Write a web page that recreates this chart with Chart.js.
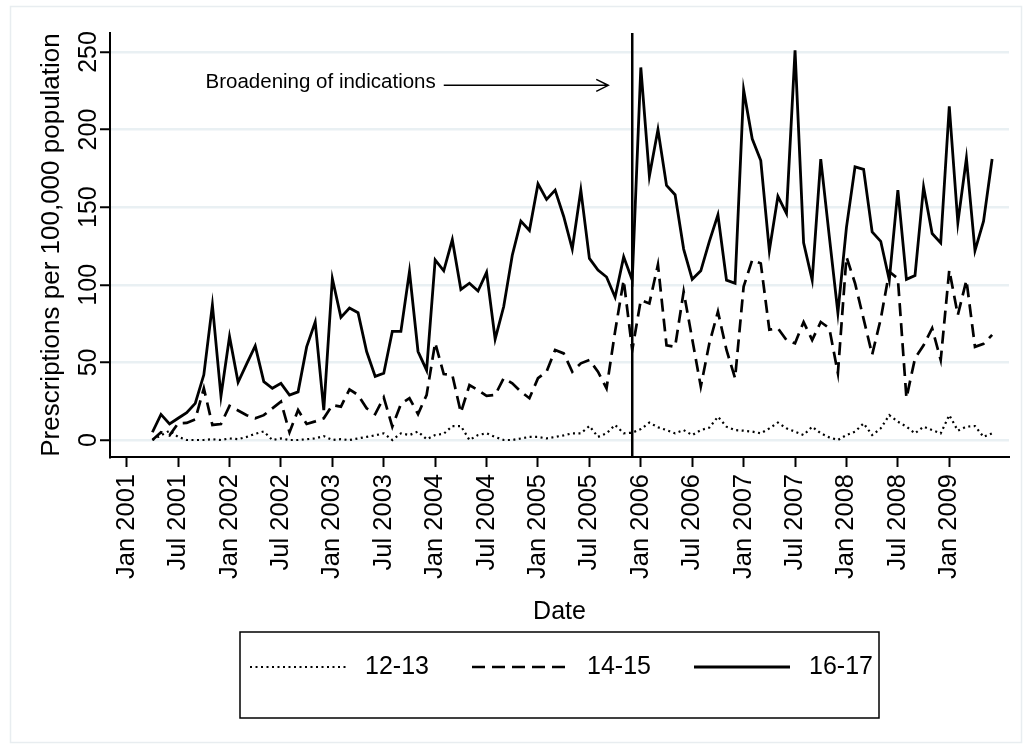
<!DOCTYPE html>
<html>
<head>
<meta charset="utf-8">
<title>Prescriptions per 100,000 population</title>
<script src="https://cdn.jsdelivr.net/npm/chart.js@4.4.1/dist/chart.umd.min.js"></script>
<style>
  html, body { margin: 0; padding: 0; background: #fff; }
  #chart { display: block; }
</style>
</head>
<body>
<canvas id="chart" width="1030" height="749"></canvas>
<script>
// x values are months counted from Jan 2001 (0 = Jan 2001), first point is Apr 2001
const firstMonth = 3;
const seriesNames = ["12-13", "14-15", "16-17"];

const age1213 = [
  0, 3, 6, 2, 0, 0, 0, 0.5, 0,
  1, 0.5, 2, 4, 5.5, 0, 1, 0, 0, 0.5, 1, 2.5,
  0, 0.5, 0, 1, 2, 3, 4.3, 0, 4.3, 3.2, 5.4, 0.5,
  3.2, 4, 9, 9, 0, 3.2, 4.3, 2, 0, 0, 1, 2,
  2, 1, 2, 3, 4.3, 4.3, 9, 2, 4.3, 9.7, 4.3, 4.7,
  7, 11.2, 8.2, 6.4, 4.3, 6.4, 3.2, 6.4, 8, 15, 8.6, 6.4,
  6, 5.4, 4.3, 7.5, 11.2, 7.5, 5.4, 3.2, 8.6, 4.3, 1.7, 0,
  3.2, 5.4, 10.7, 3.2, 7.5, 16, 11.8, 8.6, 4.3, 8.6, 6.4, 4.3,
  16, 6, 8.6, 9, 2, 4.3
];

const age1415 = [
  0, 5, 3, 10.7, 11, 13.3, 33.3, 9.7, 10.3,
  22, 19, 16, 14, 16, 20.4, 24.7, 5, 19.3, 10.3, 12, 14,
  22.5, 21.5, 32.6, 29, 20.4, 16.7, 27.5, 8.6, 23.2, 26.9, 16.7, 29,
  62.7, 42.5, 41.9, 17.6, 35.4, 32.2, 28.4, 29, 39.8, 36.5, 31.1, 26.9,
  39.8, 44, 58, 55.8, 44, 49.4, 51.5, 44, 33.3, 70, 103, 58,
  90.2, 88, 113, 61, 60, 95.6, 65, 34.4, 62.3, 82.7, 58, 39.8,
  98.8, 116, 113.8, 71, 72, 64.4, 62.3, 76, 64.4, 76, 72, 43,
  118, 101, 78, 55, 78, 108.4, 104, 27, 52.6, 61, 72, 51.5,
  109.5, 80.5, 103, 60, 62, 67.7
];

const age1617 = [
  5, 16.5, 10.3, 14, 17.6, 23.6, 42, 87, 28.3,
  66.6, 37.2, 49, 60.6, 37.6, 33.3, 36.5, 29, 31, 60, 76, 19.3,
  104, 79, 85, 82, 57, 41, 43, 70, 70, 108.5, 57, 45,
  116, 109, 129, 97, 101, 96, 108, 65, 86, 119, 141, 135,
  165, 155, 161, 144, 123, 161, 117, 109.5, 105, 92, 118, 103,
  240, 170, 200, 164, 158, 123, 103.5, 109, 128, 145, 103, 101,
  225.5, 194, 180, 122, 157, 146, 251, 127, 103, 181, 131, 82,
  137, 176, 174.4, 134, 128, 103, 161, 103.5, 106, 163, 133, 127,
  215, 140, 181.5, 122, 141, 181
];

const xTickMonths = [0, 6, 12, 18, 24, 30, 36, 42, 48, 54, 60, 66, 72, 78, 84, 90, 96];
const xTickLabels = [
  "Jan 2001", "Jul 2001", "Jan 2002", "Jul 2002", "Jan 2003", "Jul 2003",
  "Jan 2004", "Jul 2004", "Jan 2005", "Jul 2005", "Jan 2006", "Jul 2006",
  "Jan 2007", "Jul 2007", "Jan 2008", "Jul 2008", "Jan 2009"
];
const yTicks = [0, 50, 100, 150, 200, 250];

// Dec 2005 and the note pointing at it
const policyMonth = 59;
const noteText = "Broadening of indications";
const noteMonth = 9.2;
const noteValue = 230.5;
const arrowFrom = 37;
const arrowTo = 56.2;
const arrowValue = 228.5;

const FONT = "'Liberation Sans', Arial, sans-serif";
const lineWidths = [2.2, 2.7, 2.8];
const lineDashes = [[2, 3.5], [13, 7], []];

const seriesData = [age1213, age1415, age1617];
const datasets = seriesData.map((vals, i) => ({
  label: seriesNames[i],
  data: vals.map((v, j) => ({ x: firstMonth + j, y: v })),
  borderColor: "#000",
  borderWidth: lineWidths[i],
  borderDash: lineDashes[i],
  pointRadius: 0,
  tension: 0,
  fill: false,
}));

const framePlugin = {
  id: "frame",
  beforeDraw(chart) {
    const ctx = chart.ctx;
    ctx.save();
    ctx.fillStyle = "#fff";
    ctx.fillRect(0, 0, chart.width, chart.height);
    ctx.strokeStyle = "#e8edf0";
    ctx.lineWidth = 1.5;
    ctx.strokeRect(10.5, 6.5, chart.width - 19, chart.height - 13);
    ctx.restore();
  },
};

const yLabelPlugin = {
  id: "yLabels",
  afterDraw(chart) {
    const { ctx, scales: { y } } = chart;
    ctx.save();
    ctx.fillStyle = "#000";
    ctx.font = "25px " + FONT;
    ctx.textAlign = "center";
    ctx.textBaseline = "middle";
    yTicks.forEach((v) => {
      ctx.save();
      ctx.translate(y.right - 21, y.getPixelForValue(v));
      ctx.rotate(-Math.PI / 2);
      ctx.fillText(String(v), 0, 0);
      ctx.restore();
    });
    ctx.restore();
  },
};

const notePlugin = {
  id: "note",
  afterDatasetsDraw(chart) {
    const { ctx, chartArea, scales: { x, y } } = chart;
    ctx.save();
    // vertical line
    const px = x.getPixelForValue(policyMonth);
    ctx.strokeStyle = "#000";
    ctx.lineWidth = 2.5;
    ctx.beginPath();
    ctx.moveTo(px, chartArea.top);
    ctx.lineTo(px, chartArea.bottom);
    ctx.stroke();

    // text
    ctx.fillStyle = "#000";
    ctx.font = "20.5px " + FONT;
    ctx.textAlign = "left";
    ctx.textBaseline = "middle";
    ctx.fillText(noteText, x.getPixelForValue(noteMonth), y.getPixelForValue(noteValue));

    // arrow
    const ay = y.getPixelForValue(arrowValue);
    const x0 = x.getPixelForValue(arrowFrom);
    const x1 = x.getPixelForValue(arrowTo);
    ctx.lineWidth = 1.5;
    ctx.beginPath();
    ctx.moveTo(x0, ay);
    ctx.lineTo(x1, ay);
    ctx.moveTo(x1 - 12, ay - 6);
    ctx.lineTo(x1, ay);
    ctx.lineTo(x1 - 12, ay + 6);
    ctx.stroke();
    ctx.restore();
  },
};

const legendPlugin = {
  id: "boxLegend",
  afterDraw(chart) {
    const { ctx, chartArea } = chart;
    const cx = (chartArea.left + chartArea.right) / 2;
    const boxW = 639;
    const boxH = 86;
    const left = cx - boxW / 2;
    const top = chartArea.bottom + 175;
    ctx.save();
    ctx.strokeStyle = "#000";
    ctx.lineWidth = 1.5;
    ctx.strokeRect(left, top, boxW, boxH);

    const ly = top + 35;
    ctx.font = "25px " + FONT;
    ctx.fillStyle = "#000";
    ctx.textAlign = "left";
    ctx.textBaseline = "middle";
    chart.data.datasets.forEach((ds, i) => {
      const ix = left + 10 + i * 222;
      ctx.lineWidth = ds.borderWidth;
      ctx.setLineDash(ds.borderDash);
      ctx.beginPath();
      ctx.moveTo(ix, ly);
      ctx.lineTo(ix + 96, ly);
      ctx.stroke();
      ctx.setLineDash([]);
      ctx.fillText(ds.label, ix + 115, ly);
    });
    ctx.restore();
  },
};

new Chart(document.getElementById("chart"), {
  type: "line",
  data: { datasets },
  plugins: [framePlugin, yLabelPlugin, notePlugin, legendPlugin],
  options: {
    responsive: false,
    animation: false,
    devicePixelRatio: 1,
    layout: { padding: { left: 0, right: 21, top: 33, bottom: 0 } },
    plugins: {
      legend: { display: false },
      tooltip: { enabled: false },
    },
    scales: {
      x: {
        type: "linear",
        min: -1.95,
        max: 102.97,
        afterBuildTicks: (s) => { s.ticks = xTickMonths.map((v) => ({ value: v })); },
        afterFit: (s) => { s.height = 292; },
        ticks: {
          autoSkip: false,
          minRotation: 90,
          maxRotation: 90,
          padding: 7,
          color: "#000",
          font: { family: FONT, size: 25.5 },
          callback: (v, i) => xTickLabels[i],
        },
        grid: { drawOnChartArea: false, drawTicks: true, tickLength: 10, tickColor: "#000", tickWidth: 2 },
        border: { display: true, color: "#000", width: 2 },
        title: {
          display: true,
          text: "Date",
          color: "#000",
          font: { family: FONT, size: 25 },
          padding: { top: 0, bottom: 122 },
        },
      },
      y: {
        min: -10.95,
        max: 262.2,
        afterBuildTicks: (s) => { s.ticks = yTicks.map((v) => ({ value: v })); },
        afterFit: (s) => { s.width = 110; },
        ticks: { display: false },
        grid: { color: "#e9f0f3", lineWidth: 2.5, drawTicks: true, tickLength: 10, tickColor: "#000", tickWidth: 2 },
        border: { display: true, color: "#000", width: 2 },
        title: {
          display: true,
          text: "Prescriptions per 100,000 population",
          color: "#000",
          font: { family: FONT, size: 26 },
          padding: { top: 36, bottom: 0 },
        },
      },
    },
  },
});
</script>
</body>
</html>
